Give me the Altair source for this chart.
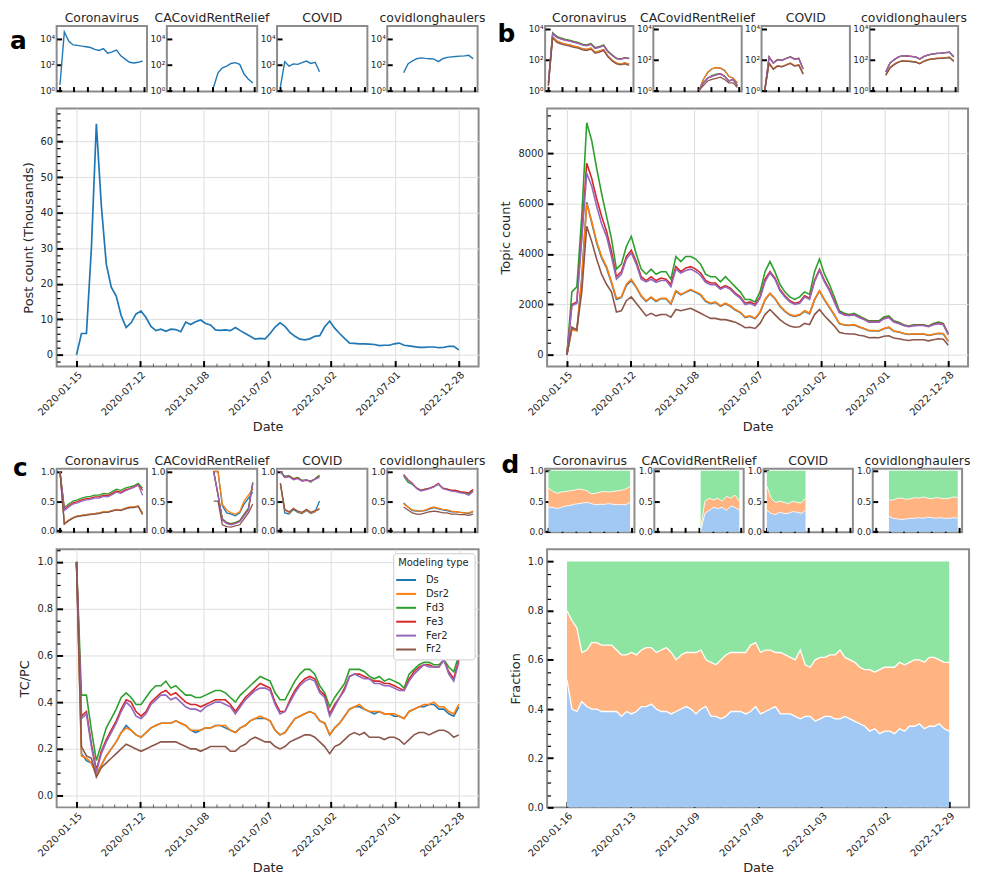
import altair as alt
import pandas as pd

FONT = "DejaVu Sans"
TXT = "#262626"
FRAME = "#8c8c8c"
GRID = "#dedede"

SERIES = ["Ds", "Dsr2", "Fd3", "Fe3", "Fer2", "Fr2"]
SERIES_COLORS = ["#1f77b4", "#ff7f0e", "#2ca02c", "#d62728", "#9467bd", "#8c564b"]
SUBREDDITS = ["Coronavirus", "CACovidRentRelief", "COVID", "covidlonghaulers"]
AREA_COLORS = ["#a1c9f4", "#ffb482", "#8de5a1"]

MAJOR_TICKS = ["2020-01-15", "2020-07-12", "2021-01-08", "2021-07-07", "2022-01-02", "2022-07-01", "2022-12-28"]
MAJOR_TICKS_D = ["2020-01-16", "2020-07-13", "2021-01-09", "2021-07-08", "2022-01-03", "2022-07-02", "2022-12-29"]

MAIN_DATES = [(pd.Timestamp("2020-01-15") + pd.Timedelta(days=14 * k)).strftime("%Y-%m-%d") for k in range(78)]
MAIN_DATES_D = [(pd.Timestamp("2020-01-16") + pd.Timedelta(days=14 * k)).strftime("%Y-%m-%d") for k in range(78)]
SMALL_DATES = [(pd.Timestamp("2020-01-15") + pd.Timedelta(days=56 * k)).strftime("%Y-%m-%d") for k in range(20)]
SMALL_DATES_D = [(pd.Timestamp("2020-01-16") + pd.Timedelta(days=56 * k)).strftime("%Y-%m-%d") for k in range(20)]

# ---------------- panel a: post counts (thousands) ----------------
A_MAIN = [0, 6, 6, 30, 65, 42, 25.5, 19, 16.5, 11, 7.7, 9, 11.5, 12.3, 10.5, 8, 6.8, 7.2, 6.6, 7.2,
          7.1, 6.5, 9.2, 8.5, 9.3, 9.8, 8.8, 8.4, 7.0, 6.9, 7.0, 6.8, 7.7, 6.8, 6.0, 5.2, 4.4, 4.6, 4.5, 6.0,
          7.8, 9.0, 8.0, 6.3, 5.2, 4.4, 4.2, 4.5, 5.2, 5.4, 7.9, 9.5, 7.5, 6.0, 4.6, 3.3, 3.2, 3.1, 3.1, 3.0,
          2.9, 2.6, 2.7, 2.7, 3.1, 3.3, 2.7, 2.5, 2.3, 2.1, 2.1, 2.2, 2.2, 2.0, 2.1, 2.4, 2.4, 1.4]

A_S_CORONA = [3, 35000, 7000, 3500, 3200, 2800, 2500, 2200, 1600, 1300, 1800, 800, 1000, 1400, 500, 280, 160, 140, 160, 200]
A_S_CACOVID = [None] * 10 + [2, 25, 60, 80, 130, 150, 110, 20, 8, 4]
A_S_COVID = [2, 180, 80, 120, 110, 150, 200, 130, 160, 30] + [None] * 10
A_S_LONG = [None] * 3 + [25, 120, 200, 300, 350, 320, 300, 280, 180, 300, 380, 420, 450, 480, 500, 550, 300]

# ---------------- panel b: topic counts ----------------
B_DS = [0, 1050, 980, 3050, 6050, 5250, 4450, 3850, 3450, 2850, 2200, 2280, 2750, 2950, 2680, 2330, 2120, 2280, 2120, 2230,
        2230, 2020, 2520, 2380, 2480, 2570, 2480, 2370, 2120, 2030, 2080, 1930, 2030, 1930, 1780, 1680, 1480, 1530, 1430, 1680,
        2180, 2430, 2230, 1930, 1730, 1580, 1530, 1580, 1730, 1630, 2180, 2530, 2180, 1880, 1580, 1240, 1190, 1170, 1190, 1110,
        1040, 960, 960, 950, 1040, 1090, 940, 910, 850, 810, 830, 820, 830, 770, 810, 850, 840, 540]
B_DSR2 = [0, 1000, 950, 3000, 6000, 5300, 4500, 3900, 3500, 2900, 2250, 2300, 2800, 3000, 2700, 2350, 2150, 2300, 2150, 2250,
          2250, 2050, 2550, 2400, 2500, 2600, 2500, 2400, 2150, 2050, 2100, 1950, 2050, 1950, 1800, 1700, 1500, 1550, 1450, 1700,
          2200, 2450, 2250, 1950, 1750, 1600, 1550, 1600, 1750, 1650, 2200, 2550, 2200, 1900, 1600, 1250, 1200, 1180, 1200, 1120,
          1050, 970, 970, 960, 1050, 1100, 950, 920, 860, 820, 840, 830, 840, 780, 820, 860, 850, 550]
B_FD3 = [0, 2500, 2700, 5500, 9200, 8500, 7400, 6400, 5500, 4600, 3400, 3600, 4300, 4700, 4000, 3400, 3200, 3400, 3200, 3300,
         3300, 3000, 3900, 3700, 3900, 3900, 3800, 3600, 3200, 3100, 3100, 2900, 3100, 2900, 2700, 2500, 2200, 2200, 2100, 2500,
         3300, 3700, 3300, 2800, 2500, 2300, 2200, 2300, 2500, 2400, 3300, 3800, 3200, 2800, 2300, 1750, 1650, 1600, 1650, 1550,
         1450, 1350, 1350, 1350, 1500, 1550, 1350, 1300, 1200, 1150, 1200, 1200, 1200, 1150, 1250, 1300, 1250, 850]
B_FE3 = [0, 2000, 2100, 4800, 7600, 7000, 6200, 5500, 4900, 4100, 3100, 3300, 3900, 4150, 3700, 3100, 2950, 3100, 2950, 3050,
         3000, 2800, 3500, 3300, 3450, 3500, 3400, 3250, 2950, 2850, 2850, 2650, 2750, 2650, 2450, 2300, 2050, 2100, 2000, 2300,
         3000, 3300, 3050, 2600, 2350, 2150, 2050, 2100, 2350, 2250, 2950, 3400, 2950, 2600, 2150, 1700, 1600, 1580, 1600, 1500,
         1420, 1320, 1320, 1320, 1450, 1500, 1320, 1260, 1180, 1130, 1170, 1180, 1180, 1130, 1220, 1260, 1220, 820]
B_FER2 = [0, 1950, 2050, 4600, 7200, 6700, 5900, 5200, 4700, 3900, 3000, 3200, 3800, 4050, 3600, 3000, 2900, 3000, 2880, 2950,
          2950, 2700, 3400, 3250, 3350, 3400, 3300, 3150, 2880, 2780, 2780, 2600, 2700, 2600, 2400, 2250, 2000, 2050, 1950, 2250,
          2900, 3250, 3000, 2550, 2300, 2100, 2000, 2050, 2300, 2200, 2900, 3350, 2900, 2550, 2100, 1680, 1580, 1560, 1580, 1480,
          1400, 1300, 1300, 1300, 1430, 1480, 1300, 1250, 1170, 1120, 1160, 1170, 1170, 1120, 1200, 1240, 1200, 800]
B_FR2 = [0, 1100, 1000, 2500, 5100, 4500, 3800, 3200, 2800, 2500, 1700, 1750, 2150, 2300, 2050, 1800, 1550, 1650, 1550, 1600,
         1600, 1500, 1800, 1750, 1800, 1850, 1750, 1650, 1550, 1450, 1450, 1400, 1400, 1350, 1300, 1200, 1080, 1100, 1050, 1250,
         1600, 1800, 1600, 1400, 1250, 1150, 1100, 1120, 1250, 1200, 1600, 1800, 1550, 1350, 1150, 900, 850, 830, 830, 780,
         750, 680, 690, 680, 740, 760, 670, 640, 600, 570, 600, 600, 600, 560, 600, 640, 620, 380]

B_S_CORONA_DS = [2, 2950, 1580, 1190, 990, 890, 740, 640, 495, 445, 545, 295, 345, 445, 168, 88, 59, 49, 59, 49]
B_S_CORONA_DSR2 = [2, 3000, 1600, 1200, 1000, 900, 750, 650, 500, 450, 550, 300, 350, 450, 170, 90, 60, 50, 60, 50]
B_S_CORONA_FD3 = [3, 5600, 3200, 2500, 2000, 1800, 1500, 1300, 1000, 900, 1100, 600, 700, 900, 350, 200, 120, 110, 130, 120]
B_S_CORONA_FE3 = [3, 4800, 2800, 2200, 1800, 1600, 1350, 1150, 900, 800, 1000, 540, 640, 820, 320, 185, 115, 105, 125, 115]
B_S_CORONA_FER2 = [3, 4600, 2700, 2100, 1750, 1550, 1300, 1100, 880, 780, 960, 520, 620, 800, 310, 180, 112, 102, 122, 112]
B_S_CORONA_FR2 = [2, 2500, 1300, 1000, 850, 750, 620, 540, 420, 380, 470, 250, 300, 380, 150, 80, 52, 44, 52, 42]

B_S_CACOVID_DS = [None] * 10 + [1, 5, 14, 24, 29, 27, 19, 8, 6, 3]
B_S_CACOVID_DSR2 = [None] * 10 + [1, 5, 15, 25, 30, 28, 20, 8, 6, 3]
B_S_CACOVID_FD3 = [None] * 10 + [1, 3, 6, 9, 11, 12, 8, 4, 5, 2]
B_S_CACOVID_FE3 = [None] * 10 + [1, 3, 6, 8, 10, 12, 8, 4, 5, 2]
B_S_CACOVID_FER2 = [None] * 10 + [1, 3, 6, 8, 10, 11, 8, 4, 5, 2]
B_S_CACOVID_FR2 = [None] * 10 + [1, 2, 4, 5, 6, 7, 5, 3, 3, 1.5]

B_S_COVID_DS = [1, 58, 24, 39, 34, 44, 58, 39, 44, 12] + [None] * 10
B_S_COVID_DSR2 = [1, 60, 25, 40, 35, 45, 60, 40, 45, 12] + [None] * 10
B_S_COVID_FD3 = [1, 150, 60, 100, 90, 120, 150, 110, 120, 25] + [None] * 10
B_S_COVID_FE3 = [1, 145, 58, 97, 88, 116, 145, 106, 116, 24] + [None] * 10
B_S_COVID_FER2 = [1, 140, 56, 95, 86, 113, 140, 104, 113, 23] + [None] * 10
B_S_COVID_FR2 = [1, 55, 23, 37, 33, 42, 55, 37, 42, 11] + [None] * 10

B_S_LONG_DS = [None] * 3 + [10, 29, 49, 69, 84, 79, 74, 69, 54, 79, 99, 109, 119, 124, 129, 139, 79]
B_S_LONG_DSR2 = [None] * 3 + [10, 30, 50, 70, 85, 80, 75, 70, 55, 80, 100, 110, 120, 125, 130, 140, 80]
B_S_LONG_FD3 = [None] * 3 + [15, 58, 96, 145, 175, 165, 155, 146, 105, 155, 195, 225, 245, 255, 275, 295, 145]
B_S_LONG_FE3 = [None] * 3 + [15, 59, 98, 148, 178, 168, 158, 148, 108, 158, 198, 228, 248, 258, 278, 298, 148]
B_S_LONG_FER2 = [None] * 3 + [15, 60, 100, 150, 180, 170, 160, 150, 110, 160, 200, 230, 250, 260, 280, 300, 150]
B_S_LONG_FR2 = [None] * 3 + [9, 28, 46, 66, 80, 76, 72, 66, 52, 76, 95, 104, 114, 118, 124, 132, 75]

# ---------------- panel c: TC/PC ----------------
C_DS = [1.0, 0.18, 0.15, 0.14, 0.09, 0.13, 0.17, 0.20, 0.23, 0.27, 0.30, 0.28, 0.26, 0.25, 0.27, 0.29, 0.30, 0.31, 0.31, 0.31,
        0.32, 0.31, 0.30, 0.28, 0.27, 0.28, 0.29, 0.29, 0.30, 0.30, 0.29, 0.28, 0.27, 0.29, 0.30, 0.32, 0.33, 0.33, 0.33, 0.32,
        0.28, 0.26, 0.27, 0.30, 0.33, 0.34, 0.35, 0.36, 0.35, 0.32, 0.31, 0.26, 0.29, 0.31, 0.34, 0.37, 0.38, 0.38, 0.37, 0.36,
        0.35, 0.36, 0.35, 0.35, 0.34, 0.34, 0.33, 0.36, 0.37, 0.38, 0.38, 0.39, 0.39, 0.37, 0.37, 0.35, 0.34, 0.38]
C_DSR2 = [1.0, 0.17, 0.16, 0.14, 0.09, 0.13, 0.17, 0.20, 0.23, 0.27, 0.29, 0.28, 0.26, 0.25, 0.27, 0.29, 0.30, 0.31, 0.31, 0.31,
          0.32, 0.31, 0.30, 0.28, 0.28, 0.28, 0.29, 0.29, 0.30, 0.30, 0.30, 0.28, 0.27, 0.29, 0.30, 0.32, 0.33, 0.34, 0.33, 0.32,
          0.28, 0.26, 0.27, 0.30, 0.33, 0.34, 0.35, 0.36, 0.35, 0.32, 0.31, 0.26, 0.29, 0.31, 0.34, 0.37, 0.38, 0.39, 0.37, 0.36,
          0.36, 0.36, 0.35, 0.35, 0.35, 0.34, 0.33, 0.36, 0.37, 0.38, 0.39, 0.39, 0.40, 0.38, 0.38, 0.36, 0.35, 0.39]
C_FD3 = [1.0, 0.43, 0.43, 0.28, 0.15, 0.22, 0.29, 0.33, 0.37, 0.42, 0.44, 0.42, 0.39, 0.39, 0.42, 0.45, 0.47, 0.47, 0.49, 0.46,
         0.47, 0.45, 0.43, 0.43, 0.42, 0.42, 0.43, 0.44, 0.45, 0.45, 0.44, 0.42, 0.40, 0.43, 0.45, 0.47, 0.49, 0.51, 0.50, 0.49,
         0.44, 0.41, 0.41, 0.45, 0.49, 0.52, 0.54, 0.54, 0.52, 0.47, 0.44, 0.38, 0.42, 0.45, 0.48, 0.54, 0.54, 0.54, 0.53, 0.51,
         0.50, 0.51, 0.49, 0.50, 0.49, 0.48, 0.46, 0.52, 0.54, 0.56, 0.57, 0.57, 0.56, 0.56, 0.58, 0.55, 0.53, 0.60]
C_FE3 = [1.0, 0.34, 0.36, 0.22, 0.11, 0.19, 0.24, 0.28, 0.32, 0.37, 0.41, 0.40, 0.36, 0.34, 0.36, 0.40, 0.42, 0.44, 0.45, 0.43,
         0.44, 0.42, 0.40, 0.39, 0.39, 0.38, 0.39, 0.40, 0.41, 0.41, 0.41, 0.39, 0.36, 0.39, 0.42, 0.44, 0.46, 0.48, 0.47, 0.46,
         0.40, 0.36, 0.36, 0.41, 0.45, 0.48, 0.50, 0.51, 0.50, 0.45, 0.43, 0.35, 0.39, 0.42, 0.46, 0.51, 0.52, 0.52, 0.51, 0.50,
         0.49, 0.49, 0.48, 0.48, 0.47, 0.46, 0.45, 0.50, 0.53, 0.55, 0.56, 0.56, 0.55, 0.55, 0.58, 0.53, 0.50, 0.58]
C_FER2 = [1.0, 0.33, 0.35, 0.21, 0.10, 0.18, 0.23, 0.27, 0.31, 0.36, 0.40, 0.38, 0.34, 0.33, 0.35, 0.39, 0.41, 0.43, 0.43, 0.41,
          0.42, 0.40, 0.38, 0.37, 0.37, 0.36, 0.38, 0.39, 0.40, 0.40, 0.39, 0.38, 0.35, 0.38, 0.41, 0.43, 0.45, 0.46, 0.46, 0.45,
          0.39, 0.35, 0.36, 0.40, 0.44, 0.47, 0.49, 0.50, 0.49, 0.44, 0.42, 0.34, 0.38, 0.42, 0.45, 0.51, 0.52, 0.51, 0.50, 0.50,
          0.48, 0.48, 0.47, 0.47, 0.46, 0.45, 0.45, 0.49, 0.52, 0.54, 0.56, 0.55, 0.55, 0.55, 0.58, 0.52, 0.49, 0.57]
C_FR2 = [1.0, 0.21, 0.17, 0.16, 0.08, 0.12, 0.14, 0.16, 0.18, 0.20, 0.22, 0.21, 0.20, 0.19, 0.20, 0.21, 0.22, 0.23, 0.23, 0.23,
         0.23, 0.22, 0.21, 0.20, 0.20, 0.19, 0.20, 0.21, 0.21, 0.21, 0.21, 0.19, 0.19, 0.21, 0.22, 0.24, 0.25, 0.24, 0.23, 0.23,
         0.21, 0.20, 0.21, 0.23, 0.24, 0.25, 0.26, 0.26, 0.25, 0.23, 0.21, 0.18, 0.21, 0.22, 0.24, 0.26, 0.27, 0.26, 0.27, 0.25,
         0.25, 0.25, 0.24, 0.25, 0.25, 0.24, 0.22, 0.24, 0.26, 0.27, 0.27, 0.26, 0.27, 0.28, 0.28, 0.27, 0.25, 0.26]

C_S_CORONA_DS = [1.0, 0.12, 0.17, 0.22, 0.24, 0.26, 0.27, 0.28, 0.29, 0.30, 0.31, 0.32, 0.34, 0.35, 0.35, 0.37, 0.39, 0.40, 0.41, 0.29]
C_S_CORONA_DSR2 = [1.0, 0.12, 0.18, 0.22, 0.25, 0.26, 0.27, 0.28, 0.29, 0.30, 0.32, 0.32, 0.34, 0.36, 0.35, 0.38, 0.40, 0.40, 0.42, 0.30]
C_S_CORONA_FD3 = [1.0, 0.39, 0.45, 0.50, 0.52, 0.55, 0.57, 0.58, 0.60, 0.60, 0.63, 0.62, 0.66, 0.70, 0.68, 0.72, 0.74, 0.76, 0.80, 0.72]
C_S_CORONA_FE3 = [1.0, 0.36, 0.42, 0.47, 0.49, 0.52, 0.54, 0.55, 0.57, 0.57, 0.60, 0.59, 0.63, 0.67, 0.65, 0.69, 0.71, 0.74, 0.78, 0.68]
C_S_CORONA_FER2 = [1.0, 0.34, 0.40, 0.45, 0.47, 0.50, 0.52, 0.53, 0.55, 0.55, 0.58, 0.57, 0.61, 0.65, 0.63, 0.67, 0.70, 0.73, 0.77, 0.60]
C_S_CORONA_FR2 = [1.0, 0.11, 0.17, 0.21, 0.24, 0.25, 0.26, 0.27, 0.28, 0.29, 0.31, 0.31, 0.33, 0.35, 0.34, 0.37, 0.39, 0.39, 0.41, 0.27]

C_S_CACOVID_DS = [None] * 10 + [1.0, 1.0, 0.42, 0.30, 0.28, 0.25, 0.30, 0.45, 0.55, 0.65]
C_S_CACOVID_DSR2 = [None] * 10 + [1.0, 1.0, 0.45, 0.35, 0.30, 0.28, 0.32, 0.50, 0.60, 0.70]
C_S_CACOVID_FD3 = [None] * 10 + [1.0, 0.62, 0.20, 0.14, 0.12, 0.14, 0.17, 0.28, 0.38, 0.82]
C_S_CACOVID_FE3 = [None] * 10 + [1.0, 0.60, 0.19, 0.13, 0.11, 0.13, 0.16, 0.26, 0.36, 0.80]
C_S_CACOVID_FER2 = [None] * 10 + [1.0, 0.60, 0.18, 0.12, 0.10, 0.12, 0.15, 0.25, 0.35, 0.80]
C_S_CACOVID_FR2 = [None] * 10 + [0.5, 0.5, 0.10, 0.07, 0.06, 0.08, 0.10, 0.20, 0.30, 0.45]

C_S_COVID_DS = [0.8, 0.30, 0.28, 0.36, 0.31, 0.29, 0.34, 0.29, 0.32, 0.50] + [None] * 10
C_S_COVID_DSR2 = [0.8, 0.35, 0.30, 0.38, 0.32, 0.30, 0.35, 0.30, 0.33, 0.38] + [None] * 10
C_S_COVID_FD3 = [1.0, 0.92, 0.93, 0.88, 0.90, 0.85, 0.86, 0.82, 0.88, 0.94] + [None] * 10
C_S_COVID_FE3 = [1.0, 0.90, 0.92, 0.87, 0.89, 0.84, 0.85, 0.84, 0.87, 0.92] + [None] * 10
C_S_COVID_FER2 = [1.0, 0.90, 0.91, 0.86, 0.88, 0.84, 0.86, 0.83, 0.87, 0.90] + [None] * 10
C_S_COVID_FR2 = [0.8, 0.36, 0.32, 0.37, 0.33, 0.31, 0.36, 0.31, 0.34, 0.36] + [None] * 10

C_S_LONG_DS = [None] * 3 + [0.47, 0.40, 0.34, 0.33, 0.33, 0.34, 0.37, 0.39, 0.37, 0.35, 0.34, 0.32, 0.32, 0.31, 0.30, 0.29, 0.32]
C_S_LONG_DSR2 = [None] * 3 + [0.45, 0.40, 0.35, 0.34, 0.33, 0.35, 0.38, 0.40, 0.38, 0.36, 0.35, 0.33, 0.32, 0.31, 0.30, 0.30, 0.33]
C_S_LONG_FD3 = [None] * 3 + [0.92, 0.82, 0.78, 0.72, 0.68, 0.70, 0.72, 0.75, 0.78, 0.72, 0.70, 0.68, 0.68, 0.65, 0.64, 0.62, 0.68]
C_S_LONG_FE3 = [None] * 3 + [0.95, 0.86, 0.80, 0.72, 0.68, 0.70, 0.72, 0.75, 0.80, 0.72, 0.70, 0.68, 0.68, 0.66, 0.65, 0.64, 0.70]
C_S_LONG_FER2 = [None] * 3 + [0.94, 0.85, 0.79, 0.71, 0.67, 0.69, 0.71, 0.74, 0.79, 0.71, 0.69, 0.67, 0.66, 0.64, 0.63, 0.60, 0.66]
C_S_LONG_FR2 = [None] * 3 + [0.40, 0.35, 0.30, 0.28, 0.28, 0.30, 0.32, 0.33, 0.32, 0.30, 0.30, 0.28, 0.28, 0.27, 0.27, 0.26, 0.28]

# ---------------- panel d: fractions (cumulative boundaries) ----------------
D_BLUE_TOP = [0.52, 0.40, 0.39, 0.43, 0.41, 0.40, 0.40, 0.39, 0.39, 0.39, 0.39, 0.37, 0.39, 0.38, 0.39, 0.41, 0.41, 0.42, 0.40, 0.39,
              0.39, 0.38, 0.39, 0.40, 0.41, 0.40, 0.38, 0.40, 0.41, 0.37, 0.37, 0.36, 0.37, 0.39, 0.39, 0.39, 0.38, 0.39, 0.41, 0.38,
              0.39, 0.40, 0.41, 0.38, 0.38, 0.38, 0.37, 0.36, 0.37, 0.37, 0.35, 0.36, 0.37, 0.37, 0.36, 0.36, 0.37, 0.36, 0.35, 0.34,
              0.33, 0.31, 0.32, 0.30, 0.31, 0.31, 0.30, 0.32, 0.31, 0.33, 0.33, 0.34, 0.32, 0.33, 0.33, 0.34, 0.32, 0.31]
D_ORANGE_TOP = [0.80, 0.76, 0.73, 0.63, 0.64, 0.67, 0.67, 0.66, 0.66, 0.66, 0.64, 0.62, 0.62, 0.63, 0.62, 0.64, 0.65, 0.65, 0.63, 0.64,
                0.65, 0.63, 0.60, 0.62, 0.63, 0.63, 0.63, 0.64, 0.60, 0.59, 0.58, 0.60, 0.62, 0.63, 0.63, 0.63, 0.63, 0.66, 0.67, 0.63,
                0.64, 0.64, 0.63, 0.63, 0.62, 0.61, 0.60, 0.64, 0.58, 0.57, 0.60, 0.61, 0.61, 0.62, 0.62, 0.64, 0.61, 0.60, 0.59, 0.57,
                0.56, 0.56, 0.55, 0.56, 0.57, 0.57, 0.57, 0.59, 0.58, 0.59, 0.60, 0.60, 0.59, 0.61, 0.61, 0.60, 0.59, 0.59]

D_S_CORONA_BLUE = [0.40, 0.40, 0.38, 0.40, 0.42, 0.43, 0.45, 0.46, 0.47, 0.48, 0.46, 0.44, 0.45, 0.45, 0.46, 0.45, 0.44, 0.45, 0.44, 0.48]
D_S_CORONA_ORANGE = [0.72, 0.66, 0.63, 0.65, 0.66, 0.67, 0.68, 0.70, 0.69, 0.67, 0.62, 0.63, 0.65, 0.66, 0.65, 0.66, 0.67, 0.68, 0.70, 0.74]
D_S_CACOVID_BLUE = [None] * 10 + [0.0, 0.30, 0.35, 0.40, 0.38, 0.40, 0.35, 0.42, 0.40, 0.35]
D_S_CACOVID_ORANGE = [None] * 10 + [0.05, 0.50, 0.55, 0.52, 0.55, 0.50, 0.58, 0.55, 0.60, 0.50]
D_S_COVID_BLUE = [0.35, 0.30, 0.28, 0.32, 0.30, 0.30, 0.33, 0.32, 0.30, 0.35] + [None] * 10
D_S_COVID_ORANGE = [0.75, 0.55, 0.48, 0.50, 0.48, 0.46, 0.50, 0.48, 0.47, 0.55] + [None] * 10
D_S_LONG_BLUE = [None] * 3 + [0.25, 0.22, 0.21, 0.20, 0.21, 0.22, 0.22, 0.23, 0.22, 0.24, 0.23, 0.22, 0.23, 0.22, 0.22, 0.23, 0.22]
D_S_LONG_ORANGE = [None] * 3 + [0.52, 0.52, 0.55, 0.55, 0.53, 0.54, 0.56, 0.55, 0.57, 0.55, 0.54, 0.56, 0.55, 0.54, 0.55, 0.57, 0.56]


# ---------------- helpers ----------------
def ms(s):
    return int(pd.Timestamp(s).value // 1_000_000)


def minor_dates(majors):
    out = []
    for a, b in zip(majors[:-1], majors[1:]):
        ta, tb = ms(a), ms(b)
        for i in range(1, 5):
            out.append(ta + (tb - ta) * i // 5)
    return out


def long_df(dates, series):
    rows = []
    for name, vals in series:
        for d, v in zip(dates, vals):
            if v is not None:
                rows.append({"date": d, "series": name, "value": v})
    return pd.DataFrame(rows)


def frac_df(dates, blue, orange):
    rows = []
    for d, b, o in zip(dates, blue, orange):
        if b is not None and o is not None:
            rows.append({"date": d, "blue": b, "orange": o, "one": 1.0})
    return pd.DataFrame(rows)


COLOR_SCALE = alt.Scale(domain=SERIES, range=SERIES_COLORS)
DATE_LABEL = "utcFormat(datum.value, '%Y-%m-%d')"


def big_x_axis(majors, grid):
    return alt.Axis(values=[ms(t) for t in majors], labelExpr=DATE_LABEL,
                    labelAngle=315, labelAlign="right", labelBaseline="top", labelPadding=3,
                    labelFontSize=10, labelColor=TXT, labelOverlap=False, labelFlush=False,
                    domain=False, ticks=True, tickSize=6, tickWidth=2, tickColor="black", offset=-6,
                    grid=grid, gridColor=GRID, gridWidth=1,
                    title="Date", titleFontSize=13, titleFontWeight="normal", titleColor=TXT, titlePadding=3)


def big_y_axis(values, fmt, title, grid):
    return alt.Axis(values=values, format=fmt, domain=False, ticks=True, tickSize=6, tickWidth=2,
                    tickColor="black", offset=-6, grid=grid, gridColor=GRID, gridWidth=1,
                    labelPadding=4, labelFontSize=10, labelColor=TXT,
                    title=title, titleFontSize=13, titleFontWeight="normal", titleColor=TXT, titlePadding=5)


def minor_layer(date0, y0, xscale, yscale, xminor, yminor):
    dummy = pd.DataFrame({"date": [date0], "value": [y0]})
    return alt.Chart(dummy).mark_point(opacity=0, size=1).encode(
        x=alt.X("date:T", scale=xscale, axis=alt.Axis(values=xminor, labels=False, domain=False, ticks=True,
                                                        tickSize=3.5, tickWidth=1, tickColor="#666666", offset=-3.5,
                                                        grid=False, title=None, orient="bottom")),
        y=alt.Y("value:Q", scale=yscale, axis=alt.Axis(values=yminor, labels=False, domain=False, ticks=True,
                                                         tickSize=3.5, tickWidth=1.2, tickColor="black", offset=-3.5,
                                                         grid=False, title=None, orient="left")),
    )


def small_x_axis(majors):
    return alt.Axis(values=[ms(t) for t in majors], labels=False, domain=False, ticks=True, tickSize=5,
                    tickWidth=2, tickColor="black", offset=-5, grid=False, title=None)


def small_y_axis(values, label_expr=None, fmt=None):
    kw = dict(values=values, domain=False, ticks=True, tickSize=5, tickWidth=2, tickColor="black", offset=-5,
              grid=False, title=None, labelFontSize=9, labelPadding=2, labelColor=TXT)
    if label_expr is not None:
        kw["labelExpr"] = label_expr
    if fmt is not None:
        kw["format"] = fmt
    return alt.Axis(**kw)


def small_title(name, width):
    return alt.Chart(alt.Data(values=[{"t": name}])).mark_text(
        font=FONT, fontSize=12.5, color=TXT, align="center", baseline="alphabetic"
    ).encode(text="t:N", x=alt.value(width / 2), y=alt.value(-4))


def letter(ch, dx, dy):
    return alt.Chart(alt.Data(values=[{"t": ch}])).mark_text(
        font=FONT, fontSize=25, fontWeight="bold", color="black", align="left", baseline="middle"
    ).encode(text="t:N", x=alt.value(dx), y=alt.value(dy))


def left_marker():
    # invisible anchor so that every row has the same left edge
    return alt.Chart(alt.Data(values=[{"t": "a"}])).mark_text(
        font=FONT, fontSize=10, opacity=0, align="left", baseline="middle"
    ).encode(text="t:N", x=alt.value(-48), y=alt.value(10))


def spacer(width, height):
    return alt.Chart(alt.Data(values=[{"t": ""}])).mark_text(opacity=0).encode(
        text="t:N").properties(width=width, height=height, view=alt.ViewBackground(stroke="transparent"))


SMALL_XS = alt.Scale(type="utc", domain=[ms("2019-12-03"), ms("2023-02-09")], nice=False)
SMALL_XS_D = alt.Scale(type="utc", domain=[ms("2019-12-04"), ms("2023-02-10")], nice=False)
BIG_XS = alt.Scale(type="utc", domain=[ms("2019-11-20"), ms("2023-02-22")], nice=False)
BIG_XS_D = alt.Scale(type="utc", domain=[ms("2019-11-21"), ms("2023-02-23")], nice=False)

LOG_LABELS = "datum.value == 1 ? '10⁰' : (datum.value == 100 ? '10²' : '10⁴')"

TOP_SH, BOT_SH = 66, 64
BIG_W, BIG_H = 425, 260
SP = 20            # gap between small panels
QUAD_GAP = 69      # gap between left and right big panels
SPACER_W = QUAD_GAP - 2 * SP - 1


# ---------------- panel a ----------------
a_small_series = [A_S_CORONA, A_S_CACOVID, A_S_COVID, A_S_LONG]
a_smalls = []
for i, (name, vals) in enumerate(zip(SUBREDDITS, a_small_series)):
    df = long_df(SMALL_DATES, [("posts", vals)])
    line = alt.Chart(df).mark_line(color="#1f77b4", strokeWidth=1.4).encode(
        x=alt.X("date:T", scale=SMALL_XS, axis=small_x_axis(MAJOR_TICKS)),
        y=alt.Y("value:Q", scale=alt.Scale(type="log", domain=[0.89, 100000], nice=False),
                axis=small_y_axis([1, 100, 10000], label_expr=LOG_LABELS)),
    )
    layers = [line, small_title(name, 91)]
    if i == 0:
        layers += [letter("a", -47, 15), left_marker()]
    a_smalls.append(alt.layer(*layers).properties(width=91, height=TOP_SH))

a_df = long_df(MAIN_DATES, [("posts", A_MAIN)])
a_ys = alt.Scale(domain=[-3.3, 69.3], nice=False, zero=False)
a_line = alt.Chart(a_df).mark_line(color="#1f77b4", strokeWidth=1.7).encode(
    x=alt.X("date:T", scale=BIG_XS, axis=big_x_axis(MAJOR_TICKS, True)),
    y=alt.Y("value:Q", scale=a_ys, axis=big_y_axis([0, 10, 20, 30, 40, 50, 60], "d", "Post count (Thousands)", True)),
)
a_big = alt.layer(
    a_line,
    minor_layer("2021-01-01", 10, BIG_XS, a_ys, minor_dates(MAJOR_TICKS), [v for v in range(-2, 70, 2) if v % 10 != 0]),
    left_marker(),
).resolve_axis(x="independent", y="independent").properties(width=BIG_W, height=BIG_H)

# ---------------- panel b ----------------
b_small_sets = [
    [B_S_CORONA_DS, B_S_CORONA_DSR2, B_S_CORONA_FD3, B_S_CORONA_FE3, B_S_CORONA_FER2, B_S_CORONA_FR2],
    [B_S_CACOVID_DS, B_S_CACOVID_DSR2, B_S_CACOVID_FD3, B_S_CACOVID_FE3, B_S_CACOVID_FER2, B_S_CACOVID_FR2],
    [B_S_COVID_DS, B_S_COVID_DSR2, B_S_COVID_FD3, B_S_COVID_FE3, B_S_COVID_FER2, B_S_COVID_FR2],
    [B_S_LONG_DS, B_S_LONG_DSR2, B_S_LONG_FD3, B_S_LONG_FE3, B_S_LONG_FER2, B_S_LONG_FR2],
]
b_smalls = []
for i, (name, sets) in enumerate(zip(SUBREDDITS, b_small_sets)):
    df = long_df(SMALL_DATES, list(zip(SERIES, sets)))
    line = alt.Chart(df).mark_line(strokeWidth=1.3).encode(
        x=alt.X("date:T", scale=SMALL_XS, axis=small_x_axis(MAJOR_TICKS)),
        y=alt.Y("value:Q", scale=alt.Scale(type="log", domain=[0.82, 15000], nice=False),
                axis=small_y_axis([1, 100, 10000], label_expr=LOG_LABELS)),
        color=alt.Color("series:N", scale=COLOR_SCALE, legend=None),
    )
    layers = [line, small_title(name, 89)]
    if i == 0:
        layers.append(letter("b", -48, 8))
    b_smalls.append(alt.layer(*layers).properties(width=89, height=TOP_SH))

b_df = long_df(MAIN_DATES, list(zip(SERIES, [B_DS, B_DSR2, B_FD3, B_FE3, B_FER2, B_FR2])))
b_ys = alt.Scale(domain=[-460, 9770], nice=False, zero=False)
b_line = alt.Chart(b_df).mark_line(strokeWidth=1.6).encode(
    x=alt.X("date:T", scale=BIG_XS, axis=big_x_axis(MAJOR_TICKS, True)),
    y=alt.Y("value:Q", scale=b_ys, axis=big_y_axis([0, 2000, 4000, 6000, 8000], "d", "Topic count", True)),
    color=alt.Color("series:N", scale=COLOR_SCALE, legend=None),
)
b_big = alt.layer(
    b_line,
    minor_layer("2021-01-01", 1000, BIG_XS, b_ys, minor_dates(MAJOR_TICKS), [v for v in range(500, 9800, 500) if v % 2000 != 0]),
).resolve_axis(x="independent", y="independent").properties(width=BIG_W - 1, height=BIG_H)

# ---------------- panel c ----------------
c_small_sets = [
    [C_S_CORONA_DS, C_S_CORONA_DSR2, C_S_CORONA_FD3, C_S_CORONA_FE3, C_S_CORONA_FER2, C_S_CORONA_FR2],
    [C_S_CACOVID_DS, C_S_CACOVID_DSR2, C_S_CACOVID_FD3, C_S_CACOVID_FE3, C_S_CACOVID_FER2, C_S_CACOVID_FR2],
    [C_S_COVID_DS, C_S_COVID_DSR2, C_S_COVID_FD3, C_S_COVID_FE3, C_S_COVID_FER2, C_S_COVID_FR2],
    [C_S_LONG_DS, C_S_LONG_DSR2, C_S_LONG_FD3, C_S_LONG_FE3, C_S_LONG_FER2, C_S_LONG_FR2],
]
c_smalls = []
for i, (name, sets) in enumerate(zip(SUBREDDITS, c_small_sets)):
    df = long_df(SMALL_DATES, list(zip(SERIES, sets)))
    line = alt.Chart(df).mark_line(strokeWidth=1.3).encode(
        x=alt.X("date:T", scale=SMALL_XS, axis=small_x_axis(MAJOR_TICKS)),
        y=alt.Y("value:Q", scale=alt.Scale(domain=[-0.028, 1.045], nice=False, zero=False),
                axis=small_y_axis([0, 0.5, 1.0], fmt=".1f")),
        color=alt.Color("series:N", scale=COLOR_SCALE, legend=None),
    )
    layers = [line, small_title(name, 91)]
    if i == 0:
        layers += [letter("c", -44, -1), left_marker()]
    c_smalls.append(alt.layer(*layers).properties(width=91, height=BOT_SH))

c_df = long_df(MAIN_DATES, list(zip(SERIES, [C_DS, C_DSR2, C_FD3, C_FE3, C_FER2, C_FR2])))
c_ys = alt.Scale(domain=[-0.05, 1.054], nice=False, zero=False)
c_line = alt.Chart(c_df).mark_line(strokeWidth=1.6).encode(
    x=alt.X("date:T", scale=BIG_XS, axis=big_x_axis(MAJOR_TICKS, True)),
    y=alt.Y("value:Q", scale=c_ys, axis=big_y_axis([0, 0.2, 0.4, 0.6, 0.8, 1.0], ".1f", "TC/PC", True)),
    color=alt.Color("series:N", scale=COLOR_SCALE, legend=alt.Legend(
        title="Modeling type", orient="top-right", offset=4, fillColor="white", strokeColor="#cccccc",
        padding=5, cornerRadius=3, symbolType="M-1.45,0H1.45", symbolStrokeWidth=2, symbolSize=190,
        labelFontSize=10, titleFontSize=10, titleFontWeight="normal", labelColor=TXT, titleColor=TXT,
        labelFont=FONT, titleFont=FONT, rowPadding=1, labelOffset=12, titlePadding=4)),
)
c_big = alt.layer(
    c_line,
    minor_layer("2021-01-01", 0.5, BIG_XS, c_ys, minor_dates(MAJOR_TICKS), [round(0.05 * i, 2) for i in range(1, 22) if i % 4 != 0]),
    left_marker(),
).resolve_axis(x="independent", y="independent").properties(width=BIG_W, height=BIG_H)

# ---------------- panel d ----------------
d_small_sets = [
    (D_S_CORONA_BLUE, D_S_CORONA_ORANGE),
    (D_S_CACOVID_BLUE, D_S_CACOVID_ORANGE),
    (D_S_COVID_BLUE, D_S_COVID_ORANGE),
    (D_S_LONG_BLUE, D_S_LONG_ORANGE),
]


def frac_layers(df, xs, xaxis, ys, yaxis, line_w):
    x_main = alt.X("date:T", scale=xs, axis=xaxis)
    x_none = alt.X("date:T", scale=xs, axis=None)
    blue = alt.Chart(df).mark_area(color=AREA_COLORS[0], opacity=1).encode(
        x=x_main, y=alt.Y("blue:Q", scale=ys, axis=yaxis))
    orange = alt.Chart(df).mark_area(color=AREA_COLORS[1], opacity=1).encode(
        x=x_none, y=alt.Y("orange:Q", scale=ys, axis=None), y2=alt.Y2("blue"))
    green = alt.Chart(df).mark_area(color=AREA_COLORS[2], opacity=1).encode(
        x=x_none, y=alt.Y("one:Q", scale=ys, axis=None), y2=alt.Y2("orange"))
    l1 = alt.Chart(df).mark_line(color="white", strokeWidth=line_w).encode(
        x=x_none, y=alt.Y("blue:Q", scale=ys, axis=None))
    l2 = alt.Chart(df).mark_line(color="white", strokeWidth=line_w).encode(
        x=x_none, y=alt.Y("orange:Q", scale=ys, axis=None))
    return [blue, orange, green, l1, l2]


d_smalls = []
for i, (name, (bl, orng)) in enumerate(zip(SUBREDDITS, d_small_sets)):
    df = frac_df(SMALL_DATES_D, bl, orng)
    layers = frac_layers(df, SMALL_XS_D, small_x_axis(MAJOR_TICKS_D),
                         alt.Scale(domain=[-0.01, 1.03], nice=False, zero=False),
                         small_y_axis([0, 0.5, 1.0], fmt=".1f"), 0.8)
    layers.append(small_title(name, 90))
    if i == 0:
        layers.append(letter("d", -44, -4))
    d_smalls.append(alt.layer(*layers).resolve_axis(x="independent", y="independent")
                    .properties(width=90, height=BOT_SH))

d_df = frac_df(MAIN_DATES_D, D_BLUE_TOP, D_ORANGE_TOP)
d_ys = alt.Scale(domain=[0, 1.05], nice=False, zero=False)
d_layers = frac_layers(d_df, BIG_XS_D, big_x_axis(MAJOR_TICKS_D, False), d_ys,
                       big_y_axis([0, 0.2, 0.4, 0.6, 0.8, 1.0], ".1f", "Fraction", False), 1.3)
d_layers.append(minor_layer("2021-01-01", 0.5, BIG_XS_D, d_ys, minor_dates(MAJOR_TICKS_D),
                            [round(0.05 * i, 2) for i in range(1, 21) if i % 4 != 0]))
d_big = alt.layer(*d_layers).resolve_axis(x="independent", y="independent").properties(width=BIG_W, height=BIG_H)

# ---------------- assemble ----------------
row1 = alt.hconcat(*a_smalls, spacer(SPACER_W, TOP_SH), *b_smalls, spacing=SP, bounds="flush")
row2 = alt.hconcat(a_big, b_big, spacing=QUAD_GAP, bounds="flush")
row3 = alt.hconcat(*c_smalls, spacer(SPACER_W, BOT_SH), *d_smalls, spacing=SP, bounds="flush")
row4 = alt.hconcat(c_big, d_big, spacing=QUAD_GAP, bounds="flush").resolve_scale(color="independent")

top_half = alt.vconcat(row1, row2, spacing=10)
bottom_half = alt.vconcat(row3, row4, spacing=10).resolve_scale(color="independent")

chart = alt.vconcat(top_half, bottom_half, spacing=17).resolve_scale(
    color="independent"
).properties(
    padding={"left": 0, "top": 0, "right": 4, "bottom": 0}
).configure(
    font=FONT
).configure_view(
    stroke=FRAME, strokeWidth=2
).configure_axis(
    labelFont=FONT, titleFont=FONT
)

chart.save("out.html", embed_options={"renderer": "svg", "actions": False})
